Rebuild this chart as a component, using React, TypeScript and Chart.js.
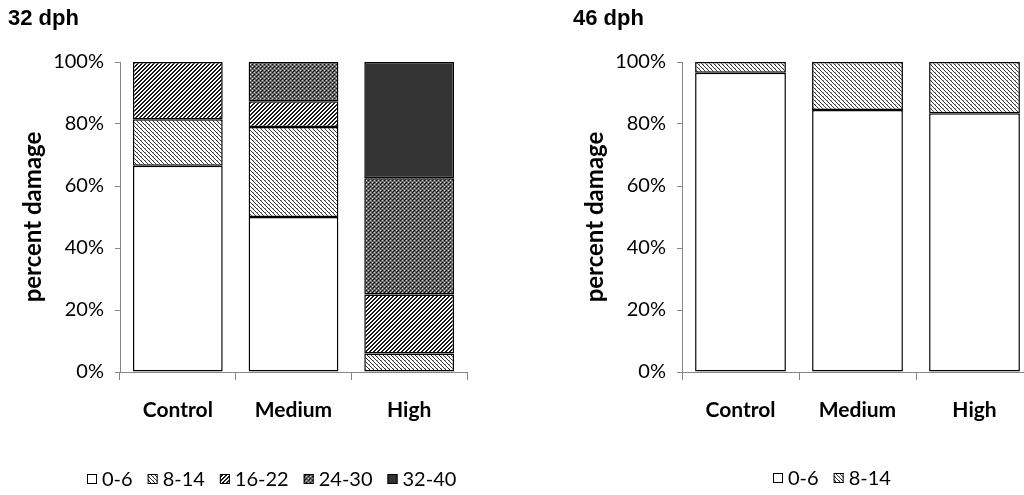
import React, { useEffect, useRef } from 'react';
import { Chart, registerables } from 'chart.js';
Chart.register(...registerables);

const categories = ['Control', 'Medium', 'High'];
const yTicks = [0, 20, 40, 60, 80, 100];

// 32 dph
const labels32 = ['0-6', '8-14', '16-22', '24-30', '32-40'];
const d32_0_6 = [66.5, 50, 0];
const d32_8_14 = [15, 29, 6];
const d32_16_22 = [18.5, 8.3, 19];
const d32_24_30 = [0, 12.7, 37.5];
const d32_32_40 = [0, 0, 37.5];

// 46 dph
const labels46 = ['0-6', '8-14'];
const d46_0_6 = [96.5, 84.5, 83.5];
const d46_8_14 = [3.5, 15.5, 16.5];

const AX = '#868686';
const FONT = 'Lato';

function tile(size: number, draw: (c: CanvasRenderingContext2D) => void): CanvasPattern | string {
  const cv = document.createElement('canvas');
  cv.width = size;
  cv.height = size;
  const c = cv.getContext('2d');
  if (!c) return '#888';
  draw(c);
  const p = c.createPattern(cv, 'repeat');
  return p || '#888';
}

function makeFills(): Record<string, CanvasPattern | string> {
  const f: Record<string, CanvasPattern | string> = {};
  f['0-6'] = '#ffffff';
  f['8-14'] = tile(4, (c) => {
    c.fillStyle = '#fff';
    c.fillRect(0, 0, 4, 4);
    c.fillStyle = '#333';
    for (let i = 0; i < 4; i++) c.fillRect(i, i, 1, 1);
    c.fillStyle = '#aaa';
    c.fillRect(1, 0, 1, 1);
  });
  f['16-22'] = tile(4, (c) => {
    c.fillStyle = '#fff';
    c.fillRect(0, 0, 4, 4);
    c.fillStyle = '#1a1a1a';
    for (let x = 0; x < 4; x++)
      for (let y = 0; y < 4; y++) if ((x + y) % 4 === 0 || (x + y) % 4 === 1) c.fillRect(x, y, 1, 1);
  });
  f['24-30'] = tile(4, (c) => {
    c.fillStyle = '#666';
    c.fillRect(0, 0, 4, 4);
    c.fillStyle = '#111';
    c.fillRect(0, 0, 1, 1);
    c.fillRect(2, 2, 1, 1);
    c.fillRect(1, 3, 1, 1);
    c.fillStyle = '#d8d8d8';
    c.fillRect(2, 0, 1, 1);
    c.fillRect(0, 2, 1, 1);
  });
  f['32-40'] = '#333333';
  return f;
}

const decoPlugin = {
  id: 'deco',
  afterDraw(chart: any, _args: any, opts: any) {
    const ctx = chart.ctx as CanvasRenderingContext2D;
    ctx.save();
    ctx.fillStyle = '#000';
    ctx.font = 'bold 22px "Liberation Sans"';
    ctx.textAlign = 'left';
    ctx.textBaseline = 'alphabetic';
    ctx.fillText(opts.title, opts.titleX, opts.titleY);
    ctx.font = `20px ${FONT}`;
    ctx.textBaseline = 'middle';
    let x = opts.legendX;
    const y = opts.legendY;
    chart.data.datasets.forEach((ds: any) => {
      ctx.fillStyle = ds.backgroundColor;
      ctx.fillRect(x, y - 5, 10, 10);
      ctx.strokeStyle = '#000';
      ctx.lineWidth = 1;
      ctx.strokeRect(x + 0.5, y - 4.5, 9, 9);
      x += 15;
      ctx.fillStyle = '#000';
      ctx.fillText(ds.label, x, y + 1);
      x += ctx.measureText(ds.label).width + 15;
    });
    ctx.restore();
  },
};

function buildConfig(
  labels: string[],
  series: number[][],
  fills: Record<string, CanvasPattern | string>,
  padRight: number,
  deco: any
): any {
  return {
    type: 'bar',
    data: {
      labels: categories,
      datasets: labels.map((lab, i) => ({
        label: lab,
        data: series[i].map((v) => (v === 0 ? null : v)),
        backgroundColor: fills[lab],
        borderColor: '#000',
        borderWidth: 1.5,
        borderSkipped: false,
        barPercentage: 0.776,
        categoryPercentage: 1,
      })),
    },
    options: {
      animation: false,
      responsive: false,
      maintainAspectRatio: false,
      layout: { padding: { left: 0, right: padRight, top: 62, bottom: 0 } },
      plugins: {
        legend: { display: false },
        tooltip: { enabled: false },
        deco,
      },
      scales: {
        x: {
          stacked: true,
          grid: { display: true, drawOnChartArea: false, drawTicks: true, tickLength: 8, color: AX, offset: true },
          border: { color: AX, width: 1 },
          ticks: { font: { family: FONT, size: 21, weight: 'bold' }, color: '#000', padding: 18 },
          afterFit: (s: any) => {
            s.height = 123;
          },
        },
        y: {
          stacked: true,
          min: 0,
          max: 100,
          afterBuildTicks: (s: any) => {
            s.ticks = yTicks.map((v) => ({ value: v }));
          },
          ticks: {
            callback: (v: any) => v + '%',
            font: { family: FONT, size: 20 },
            color: '#000',
            padding: 11,
          },
          grid: { drawOnChartArea: false, tickLength: 5, color: AX },
          border: { color: AX, width: 1 },
          title: {
            display: true,
            text: 'percent damage',
            font: { family: FONT, size: 24, weight: 'bold' },
            color: '#000',
            padding: { top: 19, bottom: 0 },
          },
          afterFit: (s: any) => {
            s.width = 120;
          },
        },
      },
    },
    plugins: [decoPlugin],
  };
}

export default function App() {
  const leftRef = useRef<HTMLCanvasElement>(null);
  const rightRef = useRef<HTMLCanvasElement>(null);

  useEffect(() => {
    const fills = makeFills();
    const c1 = new Chart(
      leftRef.current as HTMLCanvasElement,
      buildConfig(labels32, [d32_0_6, d32_8_14, d32_16_22, d32_24_30, d32_32_40], fills, 45, {
        title: '32 dph',
        titleX: 8,
        titleY: 25,
        legendX: 87,
        legendY: 479,
      })
    );
    const c2 = new Chart(
      rightRef.current as HTMLCanvasElement,
      buildConfig(labels46, [d46_0_6, d46_8_14], fills, 9, {
        title: '46 dph',
        titleX: 11,
        titleY: 25,
        legendX: 211,
        legendY: 478,
      })
    );
    return () => {
      c1.destroy();
      c2.destroy();
    };
  }, []);

  return (
    <div
      style={{
        position: 'fixed',
        left: 0,
        top: 0,
        width: 1024,
        height: 495,
        overflow: 'hidden',
        background: '#fff',
      }}
    >
      <canvas
        ref={leftRef}
        width={512}
        height={495}
        style={{ position: 'absolute', left: 0, top: 0, width: 512, height: 495 }}
      />
      <canvas
        ref={rightRef}
        width={480}
        height={495}
        style={{ position: 'absolute', left: 562, top: 0, width: 480, height: 495 }}
      />
    </div>
  );
}
